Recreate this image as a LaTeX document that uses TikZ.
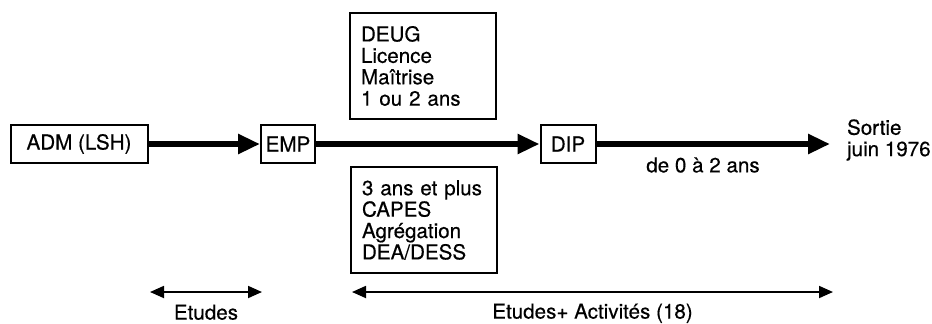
\documentclass[tikz,border=0pt]{standalone}
\usepackage{fontspec}
\setmainfont{TeX Gyre Heros}[FakeBold=0.4]
\usepackage{tikz}
\usetikzlibrary{positioning,arrows.meta}
\tikzset{
  node-box/.style={draw,line width=1pt,minimum height=19pt,inner sep=0pt,
    align=center},
  node-list/.style={draw,line width=1pt,minimum height=53pt,text width=62pt,
    inner xsep=5.5pt,align=left},
  arrow-main/.style={-{Triangle[length=11pt,width=9.5pt]},line width=3pt},
  arrow-span/.style={{Triangle[length=7pt,width=6pt]}-{Triangle[length=7pt,width=6pt]},
    line width=0.9pt},
}

\begin{document}
\begin{tikzpicture}[x=0.5pt,y=-0.5pt,
  every node/.style={font=\fontsize{10.3}{10.7}\selectfont}]
  \useasboundingbox (0,0) rectangle (932,323);

  % parcours
  \node[node-box,minimum width=68.5pt] (adm) at (79,144) {ADM (LSH)};
  \node[node-box,minimum width=27pt] (emp) at (288,144) {EMP};
  \node[node-box,minimum width=27.5pt] (dip) at (568,144) {DIP};
  \coordinate (fin) at (830,144);
  \draw[arrow-main] (adm) -- (emp);
  \draw[arrow-main] (emp) -- (dip);
  \draw[arrow-main] (dip) -- (fin);
  \node[anchor=west,align=left] (sortie) at (840,140) {Sortie\\juin 1976};
  \node (duree) at (703,165) {de 0 à 2 ans};

  % diplomes
  \node[node-list] (haut) at (423,66) {DEUG\\Licence\\Maîtrise\\1 ou 2 ans};
  \node[node-list] (bas) at (424,220) {3 ans et plus\\CAPES\\Agrégation\\DEA/DESS};

  % periodes
  \coordinate (et-g) at (150,292);
  \coordinate (et-d) at (262,292);
  \coordinate (ea-g) at (352,292);
  \coordinate (ea-d) at (833,292);
  \draw[arrow-span] (et-g) -- node[below=2.5pt] (etudes) {Etudes} (et-d);
  \draw[arrow-span] (ea-g) -- node[below=2pt] (activ) {Etudes+ Activités (18)} (ea-d);
\end{tikzpicture}
\end{document}
